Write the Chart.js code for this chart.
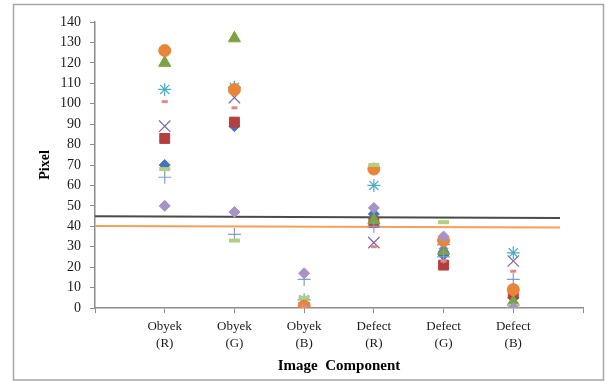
<!DOCTYPE html>
<html>
<head>
<meta charset="utf-8">
<script src="https://cdn.jsdelivr.net/npm/chart.js@4/dist/chart.umd.min.js"></script>
<style>
html,body{margin:0;padding:0;background:#fff;}
#wrap{width:606px;height:382px;position:relative;}
</style>
</head>
<body>
<div id="wrap"><canvas id="c" width="606" height="382"></canvas></div>
<script>
// ---- data ----
const categories = [["Obyek","(R)"],["Obyek","(G)"],["Obyek","(B)"],["Defect","(R)"],["Defect","(G)"],["Defect","(B)"]];
const yTicks = [0,10,20,30,40,50,60,70,80,90,100,110,120,130,140];
const s1 = [70, 89, 0, 46, 26, 5];      // blue diamond
const s2 = [83, 91, 0, 42, 21, 7];      // red square
const s3 = [120, 132, 0, 43, 28, 3];    // green triangle
const s4 = [89, 103, 0, 32, 30, 23];    // purple x
const s5 = [107, 108, 4, 60, 31, 27];   // teal star
const s6 = [126, 107, 1, 68, 33, 9];    // orange circle
const s7 = [64, 36, 14, 40, 25, 14];    // light blue plus
const s8 = [101, 98, 1, 30, 23, 18];    // pink short dash
const s9 = [68, 33, 5, 70, 42, 1];      // light green long dash
const s10 = [50, 47, 17, 49, 35, 0];    // light purple diamond
const lineBlack = [{x:0, y:44.9}, {x:6.67, y:44.1}];
const lineOrange = [{x:0, y:40.1}, {x:6.67, y:39.4}];

const series = [
  {d:s1, style:'rectRot', r:5.5, c:'#4275BC'},
  {d:s2, style:'rect', r:7, c:'#B3403F'},
  {d:s3, style:'triangle', r:7, c:'#7DA243'},
  {d:s4, style:'crossRot', r:8, c:'#8066A3', line:true},
  {d:s5, style:'star', r:6.5, c:'#4BACC6', line:true},
  {d:s6, style:'circle', r:6, c:'#EA8538'},
  {d:s7, style:'cross', r:6.5, c:'#7E9DD1', line:true},
  {d:s8, style:'line', r:3, c:'#DB8A8C', bw:3},
  {d:s9, style:'line', r:5.5, c:'#B3CD83', bw:4},
  {d:s10, style:'rectRot', r:5.5, c:'#A793C6'}
];

const datasets = series.map((s, i) => ({
  type: 'scatter',
  label: 'S' + (i + 1),
  data: s.d.map((v, k) => ({x: k + 1, y: v})),
  pointStyle: s.style,
  pointRadius: s.r,
  pointHoverRadius: s.r,
  backgroundColor: s.c,
  borderColor: s.c,
  pointBorderWidth: s.bw ? s.bw : (s.line ? 1.2 : 1),
  showLine: false,
  order: 20 - i
}));
datasets.push({
  type: 'scatter', label: 'L1', data: lineBlack, showLine: true,
  borderColor: '#4a4a4a', borderWidth: 2, pointRadius: 0, order: 40
});
datasets.push({
  type: 'scatter', label: 'L2', data: lineOrange, showLine: true,
  borderColor: '#F5A05A', borderWidth: 2, pointRadius: 0, order: 41
});

const framePlugin = {
  id: 'frame',
  beforeDraw(chart) {
    const ctx = chart.ctx;
    ctx.save();
    ctx.fillStyle = '#fff';
    ctx.fillRect(0, 0, chart.width, chart.height);
    ctx.strokeStyle = '#a6a6a6';
    ctx.lineWidth = 1.5;
    ctx.strokeRect(13.5, 4.5, 590, 375.5);
    ctx.restore();
  }
};

const serif = "'Liberation Serif', 'Times New Roman', serif";

new Chart(document.getElementById('c'), {
  type: 'scatter',
  data: { datasets },
  options: {
    responsive: false,
    animation: false,
    devicePixelRatio: 1,
    layout: { padding: { left: 37, right: 23, top: 22, bottom: 3 } },
    plugins: { legend: { display: false }, tooltip: { enabled: false } },
    scales: {
      x: {
        type: 'linear', min: 0, max: 7,
        afterBuildTicks(scale) { scale.ticks = [0,1,2,3,4,5,6,7].map(v => ({value: v})); },
        afterFit(scale) { scale.height = 71; },
        ticks: {
          autoSkip: false, maxRotation: 0, padding: 5,
          color: '#1a1a1a',
          font: { family: serif, size: 13, lineHeight: 1.3 },
          callback: (v) => (v >= 1 && v <= 6) ? categories[v - 1] : ''
        },
        grid: { drawOnChartArea: false, drawTicks: true, tickLength: 5, color: '#8c8c8c' },
        border: { display: true, color: '#8c8c8c', width: 1.5 },
        title: {
          display: true, text: 'Image  Component', color: '#000',
          font: { family: serif, size: 15, weight: 'bold' },
          padding: { top: 0, bottom: 4 }
        }
      },
      y: {
        type: 'linear', min: 0, max: 140,
        afterBuildTicks(scale) { scale.ticks = yTicks.map(v => ({value: v})); },
        afterFit(scale) { scale.width = 58; },
        ticks: {
          padding: 9, color: '#1a1a1a',
          font: { family: serif, size: 14 }
        },
        grid: { drawOnChartArea: false, drawTicks: true, tickLength: 5, color: '#8c8c8c' },
        border: { display: true, color: '#8c8c8c', width: 1.5 },
        title: {
          display: true, text: 'Pixel', color: '#000',
          font: { family: serif, size: 14, weight: 'bold' },
          padding: 0
        }
      }
    }
  },
  plugins: [framePlugin]
});
</script>
</body>
</html>
